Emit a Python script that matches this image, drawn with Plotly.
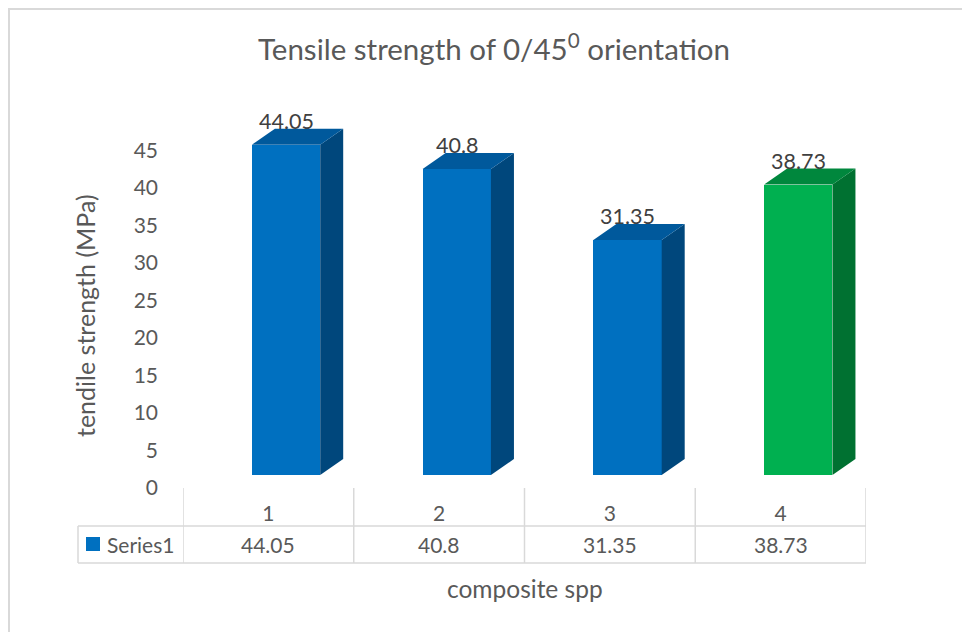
import plotly.graph_objects as go

# ---- data ----
categories = ["1", "2", "3", "4"]
series_name = "Series1"
values = [44.05, 40.8, 31.35, 38.73]
y_ticks = [0, 5, 10, 15, 20, 25, 30, 35, 40, 45]

title_text = "Tensile strength of 0/45<sup>0</sup> orientation"
y_title = "tendile strength (MPa)"
x_title = "composite spp"

# ---- styles ----
front_colors = ["#0070C0", "#0070C0", "#0070C0", "#00B050"]
side_colors = ["#00477C", "#00477C", "#00477C", "#007131"]
top_colors = ["#00599C", "#00599C", "#00599C", "#00873D"]
FONT = "Lato, 'Open Sans', sans-serif"
GREY = "#595959"
LINE = "#D9D9D9"

OFF = 8  # page body margin
W, H = 970, 632
L, R, T, B = 183 - OFF, 866 - OFF, 100 - OFF, 475 - OFF   # plot area in figure pixels
YMAX = 50
xs = list(range(len(categories)))
BAR_W = 0.4
BAR_OFF = -0.0965
px_per_x = (R - L) / len(categories)
px_per_y = (B - T) / YMAX
DX = 23 / px_per_x   # depth of the 3D effect in x units
DY = 16 / px_per_y   # depth in y units


def pxx(p):
    return (p - OFF - L) / (R - L)


def pxy(p):
    return (B - (p - OFF)) / (B - T)


fig = go.Figure()

# front faces
fig.add_trace(go.Bar(
    x=xs, y=values, width=BAR_W, offset=BAR_OFF,
    marker=dict(color=front_colors, line=dict(width=0)),
    hoverinfo="skip", showlegend=False,
))

# side and top faces
for i, v in enumerate(values):
    xl = xs[i] + BAR_OFF
    xr = xl + BAR_W
    fig.add_trace(go.Scatter(
        x=[xr, xr + DX, xr + DX, xr, xr], y=[0, DY, v + DY, v, 0],
        fill="toself", fillcolor=side_colors[i], mode="lines",
        line=dict(width=0, color=side_colors[i]), hoverinfo="skip", showlegend=False,
    ))
    fig.add_trace(go.Scatter(
        x=[xl, xl + DX, xr + DX, xr, xl], y=[v, v + DY, v + DY, v, v],
        fill="toself", fillcolor=top_colors[i], mode="lines",
        line=dict(width=0, color=top_colors[i]), hoverinfo="skip", showlegend=False,
    ))

annotations = []
# data labels
for i, v in enumerate(values):
    annotations.append(dict(
        x=xs[i] + BAR_OFF + BAR_W / 2, y=v, xref="x", yref="y",
        text=f"{v:g}", showarrow=False, yanchor="middle", yshift=24,
        font=dict(family=FONT, size=21.5, color="#404040"),
    ))

# data table values
for i, v in enumerate(values):
    annotations.append(dict(
        x=xs[i], y=pxy(544), xref="x", yref="paper",
        text=f"{v:g}", showarrow=False, yanchor="middle",
        font=dict(family=FONT, size=21, color=GREY),
    ))
annotations.append(dict(
    x=pxx(105), y=pxy(544), xref="paper", yref="paper", xanchor="left",
    text=series_name, showarrow=False, yanchor="middle",
    font=dict(family=FONT, size=21, color=GREY),
))
# axis titles
annotations.append(dict(
    x=pxx(85), y=pxy(316), xref="paper", yref="paper", textangle=-90,
    text=y_title, showarrow=False, xanchor="center", yanchor="middle",
    font=dict(family=FONT, size=25, color=GREY),
))
annotations.append(dict(
    x=pxx(525), y=pxy(588), xref="paper", yref="paper",
    text=x_title, showarrow=False, xanchor="center", yanchor="middle",
    font=dict(family=FONT, size=24.5, color=GREY),
))
# title
annotations.append(dict(
    x=pxx(494), y=pxy(47), xref="paper", yref="paper",
    text=title_text, showarrow=False, xanchor="center", yanchor="middle",
    font=dict(family=FONT, size=29.5, color=GREY),
))

shapes = []
line = dict(color=LINE, width=1.5)
# data table grid
for k in range(len(categories) + 1):
    xv = k - 0.5
    shapes.append(dict(type="line", xref="x", yref="paper",
                       x0=xv, x1=xv, y0=pxy(488), y1=pxy(563), line=line))
for yy in (526, 563):
    shapes.append(dict(type="line", xref="paper", yref="paper",
                       x0=pxx(78), x1=pxx(866), y0=pxy(yy), y1=pxy(yy), line=line))
shapes.append(dict(type="line", xref="paper", yref="paper",
                   x0=pxx(78), x1=pxx(78), y0=pxy(526), y1=pxy(563), line=line))
# legend key
shapes.append(dict(type="rect", xref="paper", yref="paper",
                   x0=pxx(86), x1=pxx(100), y0=pxy(537), y1=pxy(551),
                   fillcolor=front_colors[0], line=dict(width=0)))
# outer chart border
shapes.append(dict(type="rect", xref="paper", yref="paper",
                   x0=pxx(9), x1=pxx(990), y0=pxy(9), y1=pxy(650),
                   line=dict(color=LINE, width=2), fillcolor="rgba(0,0,0,0)", layer="below"))

fig.update_layout(
    width=W, height=H,
    margin=dict(l=L, r=W - R, t=T, b=H - B, pad=0),
    paper_bgcolor="white", plot_bgcolor="white",
    showlegend=False,
    xaxis=dict(range=[-0.5, len(categories) - 0.5], tickvals=xs, ticktext=categories,
               showgrid=False, zeroline=False, showline=False, ticks="",
               ticklabelstandoff=24,
               tickfont=dict(family=FONT, size=21, color=GREY), fixedrange=True),
    yaxis=dict(range=[0, YMAX], tickvals=y_ticks, showgrid=False, zeroline=False,
               showline=False, ticks="", ticklabelshift=13, ticklabelstandoff=24,
               tickfont=dict(family=FONT, size=21, color=GREY), fixedrange=True),
    annotations=annotations,
    shapes=shapes,
    bargap=0,
)

fig.write_html("out.html")
